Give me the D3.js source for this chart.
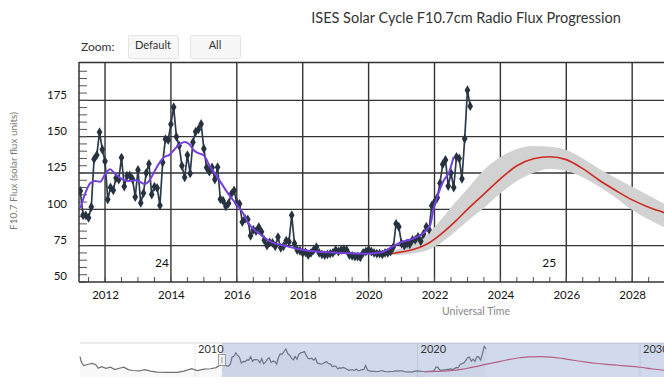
<!DOCTYPE html>
<html>
<head>
<meta charset="utf-8">
<script src="https://cdn.jsdelivr.net/npm/d3@7"></script>
<style>
  body { margin: 0; background: #fff; }
  svg { display: block; font-family: Lato, "Open Sans", sans-serif; }
</style>
</head>
<body>
<div id="chart"></div>
<script>
// Observed monthly F10.7, first value is Apr 2011, one value per month
let obsStart = 2011 + 3 / 12
let observed = [
  112.6, 95.9, 95.8, 94.2, 101.6, 134.5, 137.3, 153.1, 141.2,
  133.1, 106.7, 115.1, 113.1, 121.5, 120.5, 135.6, 115.7, 123.1, 123.3, 120.9, 108.5,
  127.1, 104.4, 111.2, 125.0, 131.3, 110.2, 115.6, 114.7, 102.7, 132.3, 148.3, 147.7,
  158.6, 170.3, 149.9, 143.8, 130.0, 122.0, 137.3, 124.7, 146.1, 153.4, 155.0, 158.7,
  141.7, 128.8, 125.9, 128.8, 120.5, 129.0, 107.0, 105.9, 102.1, 104.1, 110.6, 113.0,
  104.5, 103.8, 91.2, 93.4, 93.0, 81.8, 85.9, 85.0, 87.8, 84.5, 78.7, 75.1,
  77.3, 76.9, 74.6, 80.9, 73.5, 74.6, 78.5, 77.7, 96.0, 76.5, 72.0, 71.5,
  70.0, 70.5, 68.5, 70.0, 72.0, 74.0, 70.0, 69.0, 68.5, 69.0, 69.5, 70.0,
  72.0, 71.0, 72.0, 72.5, 72.0, 68.5, 68.0, 67.5, 67.5, 67.0, 70.0, 71.0,
  72.0, 71.0, 70.0, 69.5, 69.5, 69.0, 70.0, 70.0, 71.0, 74.0, 90.0, 88.0,
  76.5, 75.0, 76.5, 76.0, 79.0, 79.0, 81.0, 78.0, 83.0, 88.0, 86.0, 102.5,
  105.0, 108.0, 118.0, 131.0, 134.0, 116.0, 125.0, 115.0, 136.0, 135.0, 121.0, 148.5,
  182.0, 171.0
]

// 13-month smoothed flux (purple)
let smoothYears = [2011.25, 2011.4, 2011.55, 2011.7, 2011.85, 2012.0, 2012.15, 2012.3, 2012.5, 2012.7,
  2012.95, 2013.2, 2013.35, 2013.5, 2013.65, 2013.8, 2013.95, 2014.1, 2014.25, 2014.42, 2014.55,
  2014.7, 2014.85, 2015.0, 2015.2, 2015.4, 2015.7, 2016.0, 2016.2, 2016.35, 2016.7, 2017.05,
  2017.45, 2017.9, 2018.4, 2018.9, 2019.4, 2019.95, 2020.4, 2020.7, 2021.0, 2021.3, 2021.55,
  2021.75, 2021.88, 2021.97, 2022.12, 2022.27, 2022.45, 2022.58]
let smoothValues = [101, 111, 118, 119.5, 119, 124, 127.5, 124.5, 121, 119.5,
  120, 117.5, 120, 126, 132, 136, 137.5, 141, 144.5, 146.3, 145,
  140.5, 138.5, 137, 129, 122.5, 112, 103, 97, 90.5, 83, 77.5,
  75, 72.5, 71, 70.3, 69.8, 69.5, 70.5, 74, 77.5, 79.5, 82,
  85.5, 90, 100, 111, 119.5, 126, 136]

// Predicted cycle 25 (red) and its range (grey band)
let predYears = [2020.3, 2020.8, 2021.3, 2021.8, 2022.2, 2022.6, 2023.0, 2023.5, 2024.0, 2024.5,
  2025.0, 2025.5, 2026.0, 2026.5, 2027.0, 2027.5, 2028.0, 2028.5, 2029.0, 2029.5, 2030.0, 2030.5, 2031.1]
let predValues = [68.5, 70, 72, 76.5, 83, 91, 100, 110.5, 121, 130,
  134.8, 136.2, 134.2, 128, 120, 113, 106.5, 101.5, 97.5, 93.5, 88.5, 82, 75]
let bandHigh = [69.5, 72, 76, 83, 93, 104, 114, 127, 136, 141.5,
  143.5, 143, 140.8, 135, 128, 121.5, 115.5, 109.5, 103.5, 98, 93, 88, 82]
let bandLow = [68, 68.5, 69.5, 72, 77, 84, 92, 101, 111, 119.5,
  125, 127.8, 126.6, 122, 115.5, 108, 99.5, 93, 87.5, 83, 79, 75, 70]

// Navigator history before the main window
let histYears = [2004.83, 2004.9, 2005.0, 2005.2, 2005.4, 2005.55, 2005.65, 2005.8, 2006.0, 2006.2,
  2006.4, 2006.6, 2006.8, 2007.0, 2007.2, 2007.5, 2007.75, 2008.0, 2008.3, 2008.7, 2009.2,
  2009.5, 2009.85, 2010.1, 2010.4, 2010.7, 2010.95, 2011.1]
let histValues = [136, 111, 96, 102, 106, 99, 84, 91, 84, 89,
  78, 84, 89, 78, 74, 72, 78, 71, 67, 66, 66,
  71, 82, 74, 80, 82, 87, 97]

let yTicks = [50, 75, 100, 125, 150, 175]
let xTicks = [2012, 2014, 2016, 2018, 2020, 2022, 2024, 2026, 2028]
let navTicks = [2010, 2020, 2030]
let cycleLabels = [{ year: 2013.73, text: "24" }, { year: 2025.48, text: "25" }]

let obs = observed.map((v, i) => ({ t: obsStart + i / 12, v: v }))
let smooth = smoothYears.map((t, i) => ({ t: t, v: smoothValues[i] }))
let pred = predYears.map((t, i) => ({ t: t, v: predValues[i], hi: bandHigh[i], lo: bandLow[i] }))
let hist = histYears.map((t, i) => ({ t: t, v: histValues[i] }))

let width = 664, height = 389
let plotLeft = 79, plotTop = 64, plotBottom = 282

let svg = d3.select("#chart").append("svg")
  .attr("width", width)
  .attr("height", height)

// main scales
let x = d3.scaleLinear().domain([2011.21, 2029.5]).range([plotLeft, 681.6])
let y = d3.scaleLinear().domain([50, 200]).range([plotBottom, plotTop])

svg.append("defs").append("clipPath").attr("id", "plot")
  .append("rect").attr("x", plotLeft).attr("y", plotTop - 2)
  .attr("width", width - plotLeft).attr("height", plotBottom - plotTop + 2)

// title
svg.append("text")
  .attr("x", 466).attr("y", 23)
  .attr("text-anchor", "middle")
  .style("font-size", "14.5px")
  .style("fill", "#333")
  .text("ISES Solar Cycle F10.7cm Radio Flux Progression")

// zoom buttons
svg.append("text").attr("x", 81).attr("y", 51)
  .style("font-size", "12px").style("fill", "#333").text("Zoom:")
let buttons = [{ label: "Default", x: 128 }, { label: "All", x: 190 }]
buttons.forEach(b => {
  svg.append("rect").attr("x", b.x + 0.5).attr("y", 35.5).attr("width", 50).attr("height", 23)
    .attr("rx", 2).attr("fill", "#f7f7f7").attr("stroke", "#e3e3e3")
  svg.append("text").attr("x", b.x + 25).attr("y", 49).attr("text-anchor", "middle")
    .style("font-size", "11px").style("fill", "#333").text(b.label)
})

// grid
let grid = svg.append("g").attr("clip-path", "url(#plot)")
grid.selectAll(".hg").data([75, 100, 125, 150, 175]).enter().append("line")
  .attr("x1", plotLeft).attr("x2", width)
  .attr("y1", d => y(d)).attr("y2", d => y(d))
  .attr("stroke", "#333").attr("stroke-width", 1.4)
grid.selectAll(".vg").data(xTicks).enter().append("line")
  .attr("x1", d => x(d)).attr("x2", d => x(d))
  .attr("y1", plotTop - 2).attr("y2", plotBottom)
  .attr("stroke", "#333").attr("stroke-width", 1.4)

// minor ticks along left and bottom
svg.append("g").selectAll("line").data(d3.range(50, 200, 5)).enter().append("line")
  .attr("x1", plotLeft).attr("x2", plotLeft + 8)
  .attr("y1", d => y(d)).attr("y2", d => y(d))
  .attr("stroke", "#555").attr("stroke-width", 1)
svg.append("g").selectAll("line").data(d3.range(2011.5, 2029.5, 0.5)).enter().append("line")
  .attr("x1", d => x(d)).attr("x2", d => x(d))
  .attr("y1", plotBottom).attr("y2", plotBottom - 5)
  .attr("stroke", "#555").attr("stroke-width", 1)

// plot frame
svg.append("line").attr("x1", plotLeft).attr("x2", width).attr("y1", plotTop - 1.5).attr("y2", plotTop - 1.5)
  .attr("stroke", "#333").attr("stroke-width", 1.5)
svg.append("line").attr("x1", plotLeft).attr("x2", width).attr("y1", plotBottom).attr("y2", plotBottom)
  .attr("stroke", "#333").attr("stroke-width", 1.5)
svg.append("line").attr("x1", plotLeft).attr("x2", plotLeft).attr("y1", plotTop - 2).attr("y2", plotBottom)
  .attr("stroke", "#333").attr("stroke-width", 1.5)

// axes labels (the y labels sit a few px above their gridlines, as in the original)
let yAxis = d3.axisLeft(y).tickValues(yTicks).tickSize(0).tickPadding(0)
let gy = svg.append("g").attr("transform", `translate(${plotLeft - 12},-6)`).call(yAxis)
gy.select(".domain").remove()
gy.selectAll("text").style("font-size", "11.5px").style("fill", "#111").style("font-family", "Lato")

let xAxis = d3.axisBottom(x).tickValues(xTicks).tickFormat(d3.format("d")).tickSize(0).tickPadding(0)
let gx = svg.append("g").attr("transform", `translate(0,${plotBottom + 9})`).call(xAxis)
gx.select(".domain").remove()
gx.selectAll("text").style("font-size", "11.5px").style("fill", "#111").style("font-family", "Lato")

svg.append("text")
  .attr("transform", "translate(17,171) rotate(-90)")
  .attr("text-anchor", "middle")
  .style("font-size", "10px").style("fill", "#777")
  .text("F10.7 Flux (solar flux units)")
svg.append("text")
  .attr("x", 476).attr("y", 315).attr("text-anchor", "middle")
  .style("font-size", "10.5px").style("fill", "#888")
  .text("Universal Time")

// series
let plot = svg.append("g").attr("clip-path", "url(#plot)")

plot.append("path").datum(pred)
  .attr("d", d3.area().x(d => x(d.t)).y0(d => y(d.lo)).y1(d => y(d.hi)).curve(d3.curveMonotoneX))
  .attr("fill", "#d2d2d2")

plot.append("path").datum(pred)
  .attr("d", d3.line().x(d => x(d.t)).y(d => y(d.v)).curve(d3.curveMonotoneX))
  .attr("fill", "none").attr("stroke", "#cc2b22").attr("stroke-width", 1.6)

plot.append("path").datum(obs)
  .attr("d", d3.line().x(d => x(d.t)).y(d => y(d.v)))
  .attr("fill", "none").attr("stroke", "#2c3a4a").attr("stroke-width", 1.7)

plot.selectAll(".mk").data(obs).enter().append("path")
  .attr("transform", d => `translate(${x(d.t)},${y(d.v)})`)
  .attr("d", d3.symbol().type(d3.symbolDiamond).size(28))
  .attr("fill", "#26323f")

plot.append("path").datum(smooth)
  .attr("d", d3.line().x(d => x(d.t)).y(d => y(d.v)).curve(d3.curveMonotoneX))
  .attr("fill", "none").attr("stroke", "#7440e0").attr("stroke-width", 2)

// cycle numbers
svg.selectAll(".cyc").data(cycleLabels).enter().append("text")
  .attr("x", d => x(d.year)).attr("y", 267).attr("text-anchor", "middle")
  .style("font-size", "12px").style("fill", "#111")
  .text(d => d.text)

// navigator
let navTop = 343, navBottom = 377
let nx = d3.scaleLinear().domain([2010, 2020]).range([195, 417.5])
let ny = d3.scaleLinear().domain([45, 197]).range([navBottom, navTop])

svg.append("line").attr("x1", 80).attr("x2", width).attr("y1", navTop).attr("y2", navTop)
  .attr("stroke", "#d8d8d8")
svg.append("g").selectAll("line").data(navTicks).enter().append("line")
  .attr("x1", d => nx(d)).attr("x2", d => nx(d))
  .attr("y1", navTop).attr("y2", navBottom)
  .attr("stroke", "#e8e8e8")

let navLine = hist.concat(obs)
svg.append("path").datum(navLine)
  .attr("d", d3.area().x(d => nx(d.t)).y0(navBottom).y1(d => ny(d.v)))
  .attr("fill", "#888").attr("fill-opacity", 0.06)
svg.append("path").datum(navLine)
  .attr("d", d3.line().x(d => nx(d.t)).y(d => ny(d.v)))
  .attr("fill", "none").attr("stroke", "#707070").attr("stroke-width", 1.2)
svg.append("path").datum(pred)
  .attr("d", d3.line().x(d => nx(d.t)).y(d => ny(d.v)).curve(d3.curveMonotoneX))
  .attr("fill", "none").attr("stroke", "#d4506a").attr("stroke-width", 1.2)

// selected range mask
let maskX = nx(x.domain()[0])
svg.append("rect")
  .attr("x", maskX).attr("y", navTop)
  .attr("width", width - maskX).attr("height", navBottom - navTop)
  .attr("fill", "rgb(102,133,194)").attr("fill-opacity", 0.3)

svg.append("rect")
  .attr("x", maskX - 3.5).attr("y", 354.5).attr("width", 7).attr("height", 11)
  .attr("fill", "#f2f2f2").attr("stroke", "#999")
svg.append("line")
  .attr("x1", maskX).attr("x2", maskX).attr("y1", 357).attr("y2", 363)
  .attr("stroke", "#999")

svg.append("g").selectAll("text").data(navTicks).enter().append("text")
  .attr("x", d => nx(d) + 3).attr("y", 353)
  .style("font-size", "11px").style("fill", "#333")
  .text(d => d)
</script>
</body>
</html>
